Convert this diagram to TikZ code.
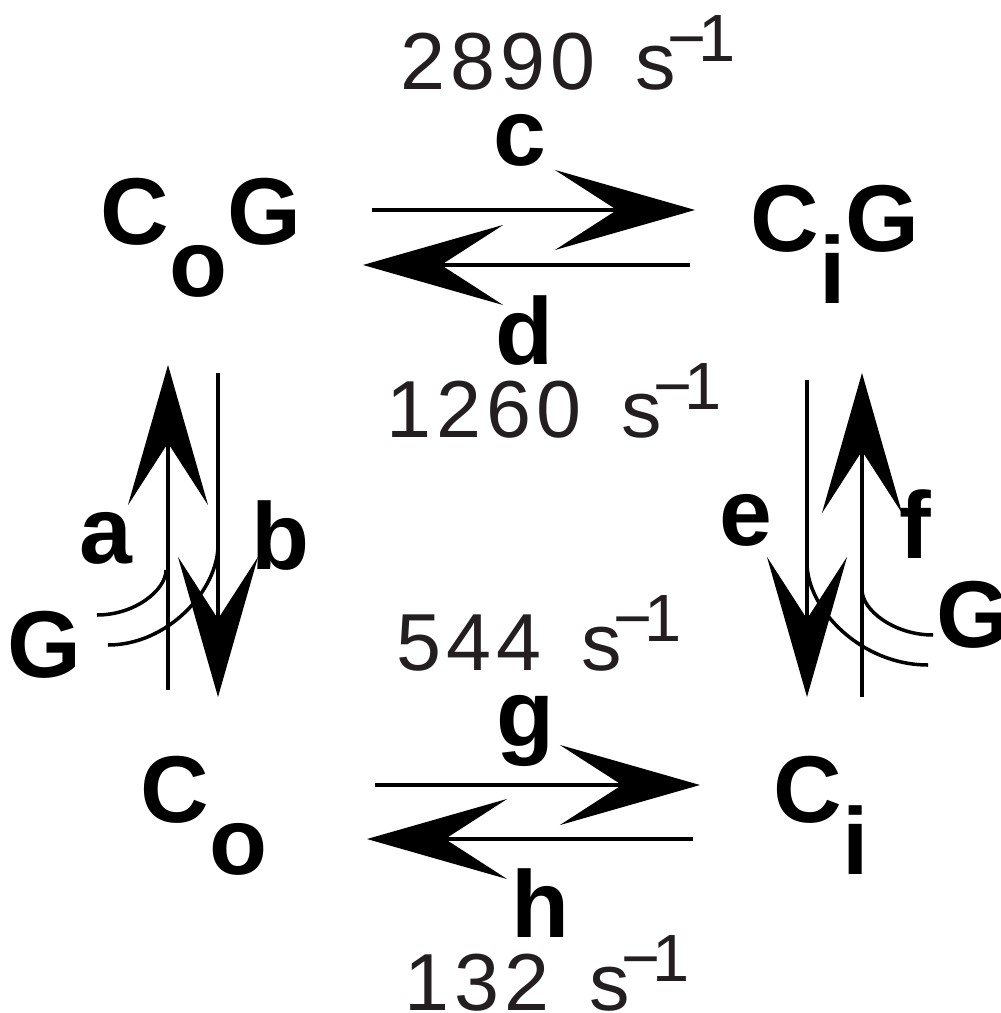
\documentclass[tikz,border=0pt]{standalone}
\usepackage{fontspec}
\setmainfont{Liberation Sans}
\usepackage{tikz}
\usetikzlibrary{arrows.meta}
\definecolor{ratecol}{RGB}{35,31,32}
\newcommand{\ratetext}[1]{{\addfontfeature{LetterSpace=6}#1}\hspace{0.4cm}s\kern-0.08cm\raisebox{0.28cm}{\fontsize{19}{20}\selectfont −\kern-0.08cm1}}

\begin{document}
\begin{tikzpicture}[x=0.01cm,y=-0.01cm,
		species/.style={font=\fontsize{27}{30}\selectfont\bfseries,inner sep=0,anchor=base},
		rate/.style={font=\fontsize{23}{26}\selectfont,text=ratecol,inner sep=0,anchor=base west},
		flux/.style={line width=0.04cm,-{Stealth[length=1.4cm,width=0.8cm,inset=0.62cm]}},
		bind/.style={line width=0.035cm}]
		\useasboundingbox (0,0) rectangle (1000,1013);
		\node[species] (CoG) at (201,245) {C\raisebox{-0.51cm}{o}G};
		\node[species] (CiG) at (835,252) {C\raisebox{-0.51cm}{i}G};
		\node[species] (Co) at (204,822) {C\raisebox{-0.52cm}{o}};
		\node[species] (Ci) at (821,822) {C\raisebox{-0.52cm}{i}};
		\node[species] (la) at (106,563) {a};
		\node[species] (lb) at (280,569) {b};
		\node[species] (lc) at (520,166) {c};
		\node[species] (ld) at (524,365) {d};
		\node[species] (le) at (746,545) {e};
		\node[species] (lf) at (915,558) {f};
		\node[species] (lg) at (525,746) {g};
		\node[species] (lh) at (540,937) {h};
		\node[species] (GL) at (44,677) {G};
		\node[species] (GR) at (973,647) {G};
		\node[rate] (kc) at (400,90) {\ratetext{2890}};
		\node[rate] (kd) at (386,438) {\ratetext{1260}};
		\node[rate] (kg) at (396,670) {\ratetext{544}};
		\node[rate] (kh) at (404,1010) {\ratetext{132}};
		\coordinate (c0) at (372,210);
		\coordinate (c1) at (695,210);
		\coordinate (d0) at (690,265);
		\coordinate (d1) at (363,265);
		\coordinate (g0) at (375,785);
		\coordinate (g1) at (700,785);
		\coordinate (h0) at (693,839);
		\coordinate (h1) at (367,839);
		\coordinate (a0) at (168,690);
		\coordinate (a1) at (168,365);
		\coordinate (b0) at (218,373);
		\coordinate (b1) at (218,697);
		\coordinate (e0) at (807,380);
		\coordinate (e1) at (807,697);
		\coordinate (f0) at (862,697);
		\coordinate (f1) at (862,373);
		\draw[flux] (c0)--(c1);
		\draw[flux] (d0)--(d1);
		\draw[flux] (g0)--(g1);
		\draw[flux] (h0)--(h1);
		\draw[flux] (a0)--(a1);
		\draw[flux] (b0)--(b1);
		\draw[flux] (e0)--(e1);
		\draw[flux] (f0)--(f1);
		\coordinate (ua) at (97,615);
		\coordinate (ub) at (108,645);
		\coordinate (ue) at (928,665);
		\coordinate (uf) at (933,635);
		\draw[bind] (ua) .. controls (135,615) and (166,590) .. (166,570);
		\draw[bind] (ub) .. controls (168,645) and (218,590) .. (218,545);
		\draw[bind] (uf) .. controls (894,635) and (862,610) .. (862,590);
		\draw[bind] (ue) .. controls (861,665) and (807,609) .. (807,563);
	\end{tikzpicture}
\end{document}
